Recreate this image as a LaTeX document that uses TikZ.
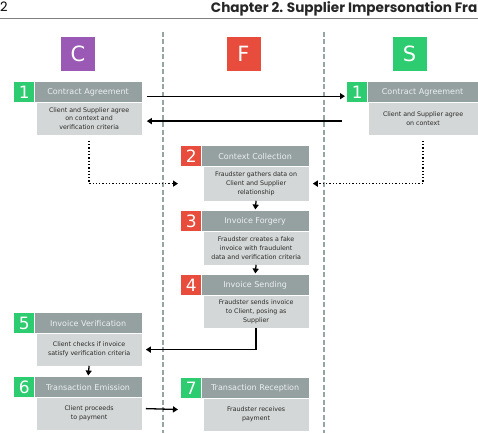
\documentclass[tikz,border=0pt]{standalone}
\usepackage{fontspec}
\setmainfont{DejaVu Sans}
\newfontfamily\headfont{Poppins}
\usepackage{tikz}
\usetikzlibrary{positioning, arrows.meta}
\definecolor{clientc}{HTML}{9B59B6}
\definecolor{fraudc}{HTML}{E74C3C}
\definecolor{supplc}{HTML}{2ECC71}
\definecolor{titlegray}{HTML}{95A0A0}
\definecolor{bodygray}{HTML}{D4D7D7}
\definecolor{lanegray}{HTML}{95A5A6}
\definecolor{titletext}{HTML}{ECF0F1}
\definecolor{bodytext}{HTML}{2A2A2A}

\begin{document}
\begin{tikzpicture}[x=1pt, y=-1pt,
  lane/.style={lanegray, line width=1.6pt, dash pattern=on 5pt off 2.5pt},
  actor/.style={minimum size=34pt, inner sep=0pt, text=white, font=\fontsize{21}{21}\selectfont},
  num/.style={minimum width=20pt, minimum height=20pt, inner sep=0pt, text=white, anchor=north west, font=\fontsize{17}{17}\selectfont},
  ttl/.style={fill=titlegray, minimum width=107pt, minimum height=20pt, inner sep=0pt, text=titletext, font=\fontsize{8}{8}\selectfont},
  body/.style={fill=bodygray, minimum width=105pt, minimum height=32pt, inner sep=0pt, align=center, text=bodytext, font=\fontsize{6.3}{8.7}\selectfont},
  arrow/.style={-{Triangle[length=5pt, width=6pt]}, line width=1.3pt, black},
  dotarrow/.style={arrow, dotted, line width=1.4pt}
]
  \useasboundingbox (0,0) rectangle (478,433);

  % page header
  \node[anchor=north west, inner sep=0pt, font=\headfont\fontsize{13}{13}\selectfont] (pagenum) at (0,2) {2};
  \node[anchor=north east, inner sep=0pt, text=black!85, font=\headfont\bfseries\fontsize{13.6}{13.6}\selectfont] (chap) at (477.5,1.5) {Chapter 2. Supplier Impersonation Fra};
  \draw[gray, line width=0.8pt] (0,18) -- (478,18);

  % swim lanes
  \draw[lane] (163,32) -- (163,433);
  \draw[lane] (324,32) -- (324,433);

  % actors
  \node[actor, fill=clientc] (client) at (78,54) {C};
  \node[actor, fill=fraudc] (fraud) at (243.5,54) {F};
  \node[actor, fill=supplc] (suppl) at (409.5,54) {S};

  % client lane
  \node[num, fill=supplc] (n1c) at (14,82) {1};
  \node[ttl, right=0pt of n1c] (t1c) {Contract Agreement};
  \node[body, anchor=north east] (b1c) at (t1c.south east) {Client and Supplier agree\\on context and\\verification criteria};

  \node[num, fill=supplc] (n5) at (14,313) {5};
  \node[ttl, right=0pt of n5] (t5) {Invoice Verification};
  \node[body, anchor=north east] (b5) at (t5.south east) {Client checks if invoice\\satisfy verification criteria};

  \node[num, fill=supplc] (n6) at (14,377) {6};
  \node[ttl, right=0pt of n6] (t6) {Transaction Emission};
  \node[body, anchor=north east] (b6) at (t6.south east) {Client proceeds\\to payment};

  % fraudster lane
  \node[num, fill=fraudc] (n2) at (181,146) {2};
  \node[ttl, right=0pt of n2] (t2) {Context Collection};
  \node[body, anchor=north east, minimum height=34pt] (b2) at (t2.south east) {Fraudster gathers data on\\Client and Supplier\\relationship};

  \node[num, fill=fraudc] (n3) at (181,211) {3};
  \node[ttl, right=0pt of n3] (t3) {Invoice Forgery};
  \node[body, anchor=north east, minimum height=33pt] (b3) at (t3.south east) {Fraudster creates a fake\\invoice with fraudulent\\data and verification criteria};

  \node[num, fill=fraudc] (n4) at (181,275) {4};
  \node[ttl, right=0pt of n4] (t4) {Invoice Sending};
  \node[body, anchor=north east] (b4) at (t4.south east) {Fraudster sends invoice\\to Client, posing as\\Supplier};

  \node[num, fill=supplc] (n7) at (181,378) {7};
  \node[ttl, right=0pt of n7] (t7) {Transaction Reception};
  \node[body, anchor=north east] (b7) at (t7.south east) {Fraudster receives\\payment};

  % supplier lane
  \node[num, fill=supplc] (n1s) at (347,82) {1};
  \node[ttl, right=0pt of n1s, minimum width=110pt] (t1s) {Contract Agreement};
  \node[body, anchor=north east, minimum width=109pt] (b1s) at (t1s.south east) {Client and Supplier agree\\on context};

  % flows
  \draw[arrow] ([xshift=5pt, yshift=-4pt]t1c.east) -- ([xshift=-2pt, yshift=-4pt]n1s.west);
  \draw[arrow] ([xshift=-5pt, yshift=-2.5pt]n1s.west |- b1s.west) -- ([xshift=5pt, yshift=-2.5pt]b1c.east);
  \draw[dotarrow, shorten <=6pt, shorten >=3pt] (b1c.south) |- (b2.west -| n2.west);
  \draw[dotarrow, shorten <=6pt] (b1s.south) |- ([xshift=4pt]b2.east);
  \draw[arrow, shorten >=1.5pt] (b2.south) -- (t3.north);
  \draw[arrow, shorten >=1.5pt] (b3.south) -- (t4.north);
  \draw[arrow] (b4.south) |- ([xshift=4pt]b5.east);
  \draw[arrow, shorten >=1.5pt] (b5.south) -- (t6.north);
  \draw[arrow, shorten >=3pt] ([xshift=4pt, yshift=5pt]b6.east) -- ([yshift=5pt]b7.west -| n7.west);
\end{tikzpicture}
\end{document}
